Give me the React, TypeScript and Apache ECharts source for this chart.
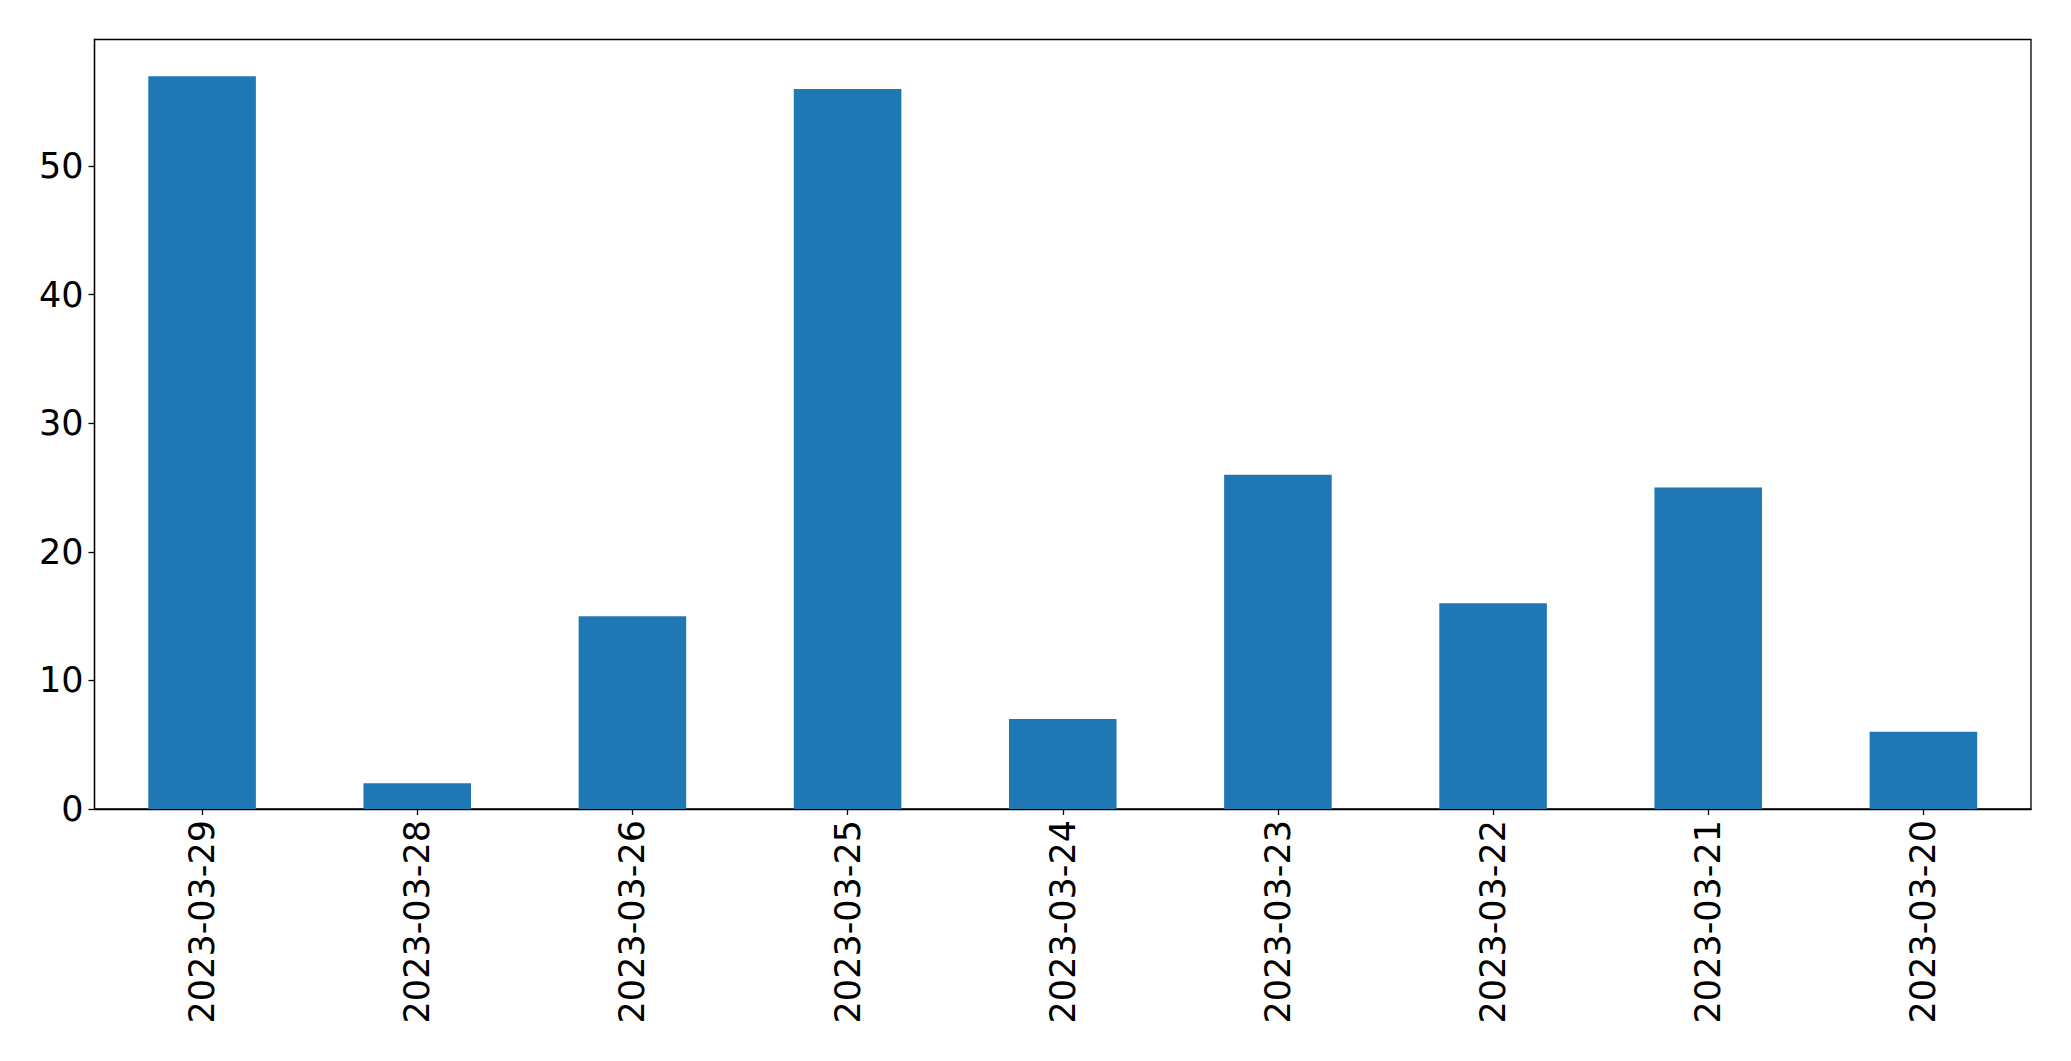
import React, { useEffect, useRef } from "react";
import * as echarts from "echarts";

const categories = [
  "2023-03-29",
  "2023-03-28",
  "2023-03-26",
  "2023-03-25",
  "2023-03-24",
  "2023-03-23",
  "2023-03-22",
  "2023-03-21",
  "2023-03-20",
];
const values = [57, 2, 15, 56, 7, 26, 16, 25, 6];
const yMax = 59.85;

export default function App() {
  const ref = useRef<HTMLDivElement>(null);
  useEffect(() => {
    document.body.style.margin = "0";
    if (!ref.current) return;
    const chart = echarts.init(ref.current, undefined, { renderer: "svg" });
    const font = "DejaVu Sans";
    chart.setOption({
      animation: false,
      backgroundColor: "#ffffff",
      grid: {
        left: 94.5,
        right: 40,
        top: 39.5,
        bottom: 252,
        show: true,
        borderColor: "#000000",
        borderWidth: 1.3,
        backgroundColor: "transparent",
      },
      xAxis: {
        type: "category",
        data: categories,
        boundaryGap: true,
        axisLine: { show: true, lineStyle: { color: "#000", width: 1.3 } },
        axisTick: { show: true, alignWithLabel: true, length: 6, lineStyle: { color: "#000", width: 1.3 } },
        axisLabel: {
          rotate: 90,
          fontSize: 35,
          fontFamily: font,
          color: "#000",
          margin: 11,
          interval: 0,
        },
        splitLine: { show: false },
      },
      yAxis: {
        type: "value",
        min: 0,
        max: yMax,
        interval: 10,
        axisLine: { show: true, lineStyle: { color: "#000", width: 1.3 } },
        axisTick: { show: true, length: 6, lineStyle: { color: "#000", width: 1.3 } },
        axisLabel: {
          fontSize: 35,
          fontFamily: font,
          color: "#000",
          margin: 11,
          showMaxLabel: false,
        },
        splitLine: { show: false },
      },
      series: [
        {
          type: "bar",
          data: values,
          barWidth: "50%",
          itemStyle: { color: "#1f77b4" },
        },
      ],
    });
    return () => chart.dispose();
  }, []);
  return <div ref={ref} style={{ width: 2071, height: 1061 }} />;
}
